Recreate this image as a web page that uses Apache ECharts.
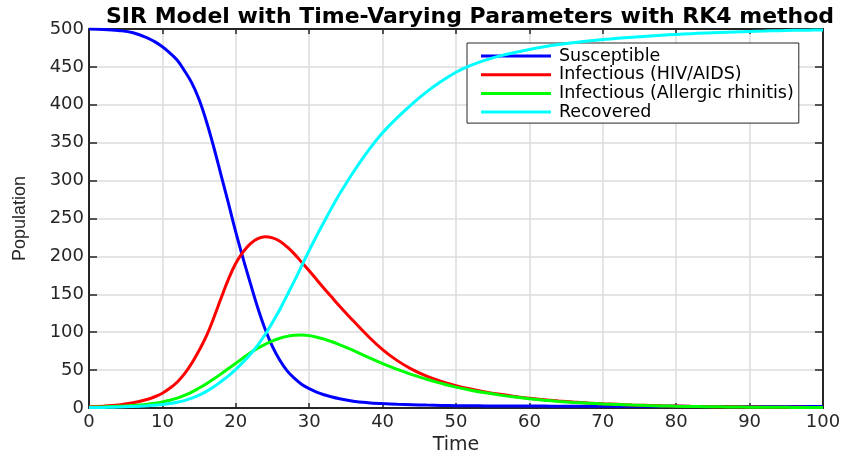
<!DOCTYPE html>
<html>
<head>
<meta charset="utf-8">
<script src="https://cdn.jsdelivr.net/npm/echarts@6/dist/echarts.min.js"></script>
<style>html,body{margin:0;padding:0;background:#fff;}#c{width:847px;height:460px;}</style>
</head>
<body>
<div id="c"></div>
<script>
var chartTitle = 'SIR Model with Time-Varying Parameters with RK4 method';
var xName = 'Time';
var yName = 'Population';
var seriesNames = ['Susceptible', 'Infectious (HIV/AIDS)', 'Infectious (Allergic rhinitis)', 'Recovered'];
var time = [0,2,4,6,8,9,10,11,12,13,14,15,16,17,18,19,20,21,22,23,24,25,26,27,28,29,30,31,32,33,34,36,38,40,42,44,46,48,50,52,54,56,58,60,62,64,66,68,70,72,74,76,78,80,82,84,86,88,90,92,94,96,98,100];
var susceptible = [500,499.5,498,495,488,483,476.5,468.5,459,445,429,407,378,344,307,270,232,197,164,132,104,81,63,49,39,31,25.5,21,17.5,14.8,12.5,9,7,5.8,4.9,4.3,3.8,3.4,3.1,2.9,2.8,2.7,2.6,2.5,2.5,2.4,2.4,2.3,2.3,2.3,2.2,2.2,2.2,2.2,2.1,2.1,2.1,2.1,2.1,2.1,2.0,2.0,2.0,2.0];
var infectiousHIV = [1.5,2.4,4,6.8,11.5,15,19.5,26,34,45,59,76,95,119,145,170,191,206,217,223.5,226,224.5,220,212.5,203,192,181,169.5,158,147,136,115,95,77,62.5,51,42,35,29.5,25,21.2,18,15.2,12.8,10.8,9.2,7.8,6.6,5.6,4.8,4.1,3.5,3.0,2.6,2.2,1.9,1.7,1.5,1.3,1.15,1.0,0.9,0.8,0.7];
var infectiousAllergic = [1,1.5,2.2,3.3,5,6.3,8,10.2,13,16.6,21,26.3,32,38.3,45,52,59,66,73,79,84,88.5,92,94.5,96,96.2,95.5,93.5,91,87.7,84,76,67,58.5,51,44,38,32.5,27.5,23.5,20,17,14.4,12.2,10.3,8.7,7.4,6.3,5.3,4.5,3.8,3.2,2.7,2.3,2.0,1.7,1.5,1.3,1.1,1.0,0.9,0.8,0.7,0.6];
var recovered = [0.5,0.8,1.2,2,3,3.7,4.5,5.8,7.5,9.8,13,17,22,28,35,42.5,51,60.5,71,83,97,113,130,149,168,188,208,227,245,263,280,311,339,363,383,401,417,431,443,452,459,464.5,469,473,476.5,479.5,482,484.2,486,487.7,489.2,490.5,491.7,492.8,493.8,494.7,495.5,496.2,496.8,497.3,497.8,498.2,498.5,498.8];
var xTicks = {min: 0, max: 100, interval: 10};
var yTicks = {min: 0, max: 500, interval: 50};

var colors = ['#0000ff', '#ff0000', '#00ff00', '#00ffff'];
var valueSets = [susceptible, infectiousHIV, infectiousAllergic, recovered];
var axisColor = '#262626';
var tickFont = 'DejaVu Sans';

function pairs(vals) { return time.map(function (t, i) { return [t, vals[i]]; }); }

var chart = echarts.init(document.getElementById('c'), null, {renderer: 'canvas'});
var option = {
  animation: false,
  backgroundColor: '#ffffff',
  title: {
    text: chartTitle,
    left: 106, top: 6, padding: 0,
    textStyle: {fontFamily: 'DejaVu Sans', fontWeight: 'bold', fontSize: 22, color: '#000'}
  },
  grid: {left: 89, right: 24, top: 29, bottom: 49, containLabel: false},
  legend: {
    orient: 'vertical', left: 467, top: 43,
    data: seriesNames,
    icon: 'rect', itemWidth: 70, itemHeight: 3, itemGap: 0.7,
    padding: [4, 5, 2, 14],
    borderColor: axisColor, borderWidth: 1, backgroundColor: '#ffffff',
    textStyle: {fontFamily: 'DejaVu Sans', fontSize: 17.5, color: '#000', lineHeight: 17, padding: [0, 0, 0, 3]}
  },
  xAxis: [{
    type: 'value', min: xTicks.min, max: xTicks.max, interval: xTicks.interval,
    name: xName, nameLocation: 'middle', nameGap: 28,
    nameTextStyle: {fontFamily: 'DejaVu Sans', fontSize: 19, color: axisColor},
    axisLine: {show: true, onZero: false, lineStyle: {color: axisColor, width: 2}},
    axisTick: {show: true, inside: true, length: 5, lineStyle: {color: axisColor, width: 1.5}},
    axisLabel: {fontFamily: tickFont, fontSize: 18, color: axisColor, margin: 5},
    splitLine: {show: true, lineStyle: {color: '#dcdcdc', width: 1.5}}
  }, {
    type: 'value', position: 'top', min: xTicks.min, max: xTicks.max, interval: xTicks.interval,
    axisLine: {show: true, onZero: false, lineStyle: {color: axisColor, width: 2}},
    axisTick: {show: true, inside: true, length: 5, lineStyle: {color: axisColor, width: 1.5}},
    axisLabel: {show: false}, splitLine: {show: false}
  }],
  yAxis: [{
    type: 'value', min: yTicks.min, max: yTicks.max, interval: yTicks.interval,
    name: yName, nameLocation: 'middle', nameGap: 60, nameRotate: 90,
    nameTextStyle: {fontFamily: 'Liberation Sans', fontSize: 18, color: axisColor},
    axisLine: {show: true, onZero: false, lineStyle: {color: axisColor, width: 2}},
    axisTick: {show: true, inside: true, length: 8, lineStyle: {color: axisColor, width: 1.5}},
    axisLabel: {fontFamily: tickFont, fontSize: 18, color: axisColor, margin: 5},
    splitLine: {show: true, lineStyle: {color: '#dcdcdc', width: 1.5}}
  }, {
    type: 'value', position: 'right', min: yTicks.min, max: yTicks.max, interval: yTicks.interval,
    axisLine: {show: true, onZero: false, lineStyle: {color: axisColor, width: 2}},
    axisTick: {show: true, inside: true, length: 8, lineStyle: {color: axisColor, width: 1.5}},
    axisLabel: {show: false}, splitLine: {show: false}
  }],
  series: seriesNames.map(function (name, i) {
    return {
      name: name, type: 'line', xAxisIndex: 0, yAxisIndex: 0,
      data: pairs(valueSets[i]), smooth: 0.4, showSymbol: false, symbol: 'none',
      color: colors[i],
      lineStyle: {color: colors[i], width: 3}, z: 2 + i
    };
  })
};
chart.setOption(option);
</script>
</body>
</html>
